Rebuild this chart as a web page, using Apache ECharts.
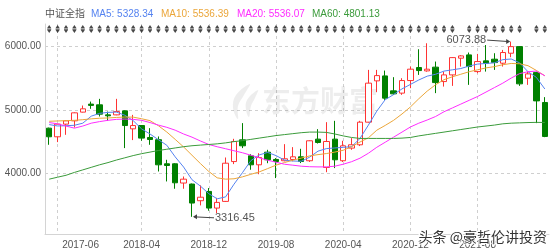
<!DOCTYPE html>
<html><head><meta charset="utf-8">
<script src="https://cdn.jsdelivr.net/npm/echarts@6/dist/echarts.min.js"></script>
<style>html,body{margin:0;padding:0;background:#fff}#c{width:554px;height:251px}</style>
</head><body><div id="c"></div>
<script>
const indexName = '中证全指';
const months = ['2017-05','2017-06','2017-07','2017-08','2017-09','2017-10','2017-11','2017-12',
'2018-01','2018-02','2018-03','2018-04','2018-05','2018-06','2018-07','2018-08','2018-09','2018-10','2018-11','2018-12',
'2019-01','2019-02','2019-03','2019-04','2019-05','2019-06','2019-07','2019-08','2019-09','2019-10','2019-11','2019-12',
'2020-01','2020-02','2020-03','2020-04','2020-05','2020-06','2020-07','2020-08','2020-09','2020-10','2020-11','2020-12',
'2021-01','2021-02','2021-03','2021-04','2021-05','2021-06','2021-07','2021-08','2021-09','2021-10','2021-11','2021-12',
'2022-01','2022-02','2022-03','2022-04'];
// [open, close, low, high]
const ohlc = [
[4712,4576,4450,4720],[4576,4775,4492,4780],[4775,4827,4607,4838],[4827,4953,4722,4960],
[4964,5016,4958,5068],[5090,5070,5016,5130],[5079,4932,4895,5173],[4921,4906,4827,4973],
[4921,4973,4915,5173],[4984,4753,4398,4990],[4701,4753,4524,4921],[4753,4555,4513,4760],
[4565,4533,4450,4712],[4530,4135,4030,4581],[4151,4124,3873,4214],[4151,3852,3758,4160],
[3848,3909,3758,3951],[3832,3533,3316.45,3840],[3570,3625,3496,3811],[3716,3454,3412,3769],
[3454,3543,3376,3615],[3559,4160,3550,4250],[4186,4502,4146,4544],[4528,4434,4398,4791],
[4277,4135,4057,4303],[4135,4250,3987,4318],[4334,4214,4160,4371],[4219,4187,3926,4240],
[4199,4230,4190,4460],[4219,4261,4190,4413],[4261,4187,4162,4387],[4199,4513,4180,4520],
[4539,4486,4470,4696],[4093,4502,4019,4806],[4539,4214,4083,4827],[4199,4434,4180,4513],
[4398,4450,4371,4555],[4450,4806,4430,4827],[4806,5420,4800,5629],[5456,5539,5278,5629],
[5534,5184,5157,5618],[5299,5252,5236,5514],[5263,5461,5236,5498],[5461,5640,5341,5681],
[5666,5618,5550,5954],[5613,5640,5600,6048],[5672,5429,5263,5760],[5445,5550,5366,5602],
[5550,5822,5377,5830],[5813,5849,5681,5860],[5865,5681,5393,5902],[5602,5760,5577,5880],
[5771,5734,5602,6020],[5797,5744,5629,5891],[5734,5902,5681,5943],[5891,5995,5828,6073.88],
[5995,5409,5377,6000],[5498,5566,5393,5602],[5586,5141,4791,5600],[5116,4581,4570,5200]];
const ma5 = [4768,4746,4750,4757,4790,4900,4945,4960,4965,4915,4830,4700,4620,4530,4443,4260,4100,3900,3800,3680,
3600,3630,3830,4010,4200,4290,4330,4280,4210,4195,4190,4255,4350,4390,4400,4410,4420,4550,4760,4980,
5160,5240,5330,5400,5470,5530,5560,5610,5630,5650,5690,5720,5730,5740,5790,5800,5740,5600,5510,5328.34];
const ma10 = [4820,4825,4830,4835,4845,4858,4868,4872,4880,4887,4885,4860,4830,4750,4651,4535,4416,4285,4155,4030,
3930,3909,3915,3945,3985,4023,4075,4129,4170,4207,4240,4275,4295,4312,4335,4364,4420,4494,4560,4680,
4755,4835,4935,5045,5175,5295,5395,5475,5520,5560,5600,5630,5660,5680,5710,5730,5725,5695,5620,5536.39];
const ma20 = [4800,4780,4745,4712,4745,4790,4815,4835,4850,4855,4850,4835,4800,4760,4725,4680,4620,4570,4510,4455,
4419,4388,4356,4325,4286,4246,4207,4176,4144,4129,4113,4105,4102,4102,4113,4144,4184,4239,4317,4411,
4490,4570,4650,4730,4790,4840,4895,4970,5030,5090,5150,5210,5280,5350,5420,5500,5570,5600,5610,5536.07];
const ma60 = [3909,3940,3970,4015,4055,4095,4135,4170,4210,4245,4280,4310,4335,4360,4380,4400,4420,4435,4445,4455,
4465,4480,4500,4515,4535,4555,4575,4595,4610,4625,4640,4650,4650,4645,4620,4590,4565,4550,4550,4550,
4550,4550,4555,4565,4590,4610,4630,4650,4670,4690,4710,4730,4745,4760,4780,4790,4795,4800,4803,4801.13];
const eventFlags = [1,1,1,1,1,1,1,1,1,1,1,1,1,1,1,1,1,1,1,1,1,1,1,1,1,1,1,1,1,1,
1,1,1,1,1,1,1,1,1,1,1,1,1,1,1,1,1,1,1,0,1,1,1,1,1,1,1,0,1,1];
const xTickLabels = ['2017-06','2018-04','2018-12','2019-08','2020-04','2020-12','2021-08'];
const yTickValues = [4000, 5000, 6000];

const C = {up:'#ff3333', down:'#008000', ma5:'#5583f0', ma10:'#eba63a', ma20:'#ff2cff', ma60:'#3b9b3b'};
const FONT = 'Arial, "Liberation Sans", "Noto Sans CJK SC", sans-serif';
const chart = echarts.init(document.getElementById('c'), null, {renderer:'canvas'});
const labelSet = new Set(xTickLabels);
const showIdx = (i) => labelSet.has(months[i]);

function maLine(name, data, color){
  return {name, type:'line', data, symbol:'none', smooth:false, silent:true,
    lineStyle:{width:1, color}, itemStyle:{color}, z:3};
}
const markerPath = 'path://M2,0 L4,3 L0,3 Z M0,3.4 L4,3.4 L4,4.6 L0,4.6 Z M0,5 L4,5 L2,8 Z';

chart.setOption({
  animation:false,
  textStyle:{fontFamily:FONT},
  grid:{left:45, right:5, top:24, bottom:17},
  xAxis:{type:'category', data:months, boundaryGap:true,
    axisLine:{lineStyle:{color:'#d4d4d4'}},
    axisTick:{show:false, interval:showIdx, alignWithLabel:true},
    axisLabel:{interval:showIdx, color:'#555', fontSize:10, margin:6, fontFamily:FONT,
      formatter:(v)=> v===xTickLabels[0] ? '{f|'+v+'}' : v,
      rich:{f:{padding:[0,0,0,46], fontSize:10, color:'#555', fontFamily:FONT}}},
    splitLine:{show:true, interval:showIdx, alignWithLabel:true, lineStyle:{color:'#cfcfcf', type:[3,3], width:1}}},
  yAxis:[{type:'value', min:3046, max:6351,
    axisLine:{show:true, lineStyle:{color:'#d4d4d4'}},
    axisTick:{show:false, customValues:yTickValues},
    axisLabel:{customValues:yTickValues, formatter:(v)=>v.toFixed(2), color:'#555', fontSize:10, margin:4, fontFamily:FONT},
    splitLine:{show:true, lineStyle:{color:'#cfcfcf', type:[3,3], width:1}}},
    {type:'value', min:0, max:1, show:false}],
  series:[
    {type:'candlestick', data:ohlc, barWidth:6, silent:true, z:2,
      itemStyle:{color:'#ffffff', color0:C.down, borderColor:C.up, borderColor0:C.down, borderWidth:1}},
    maLine('MA5', ma5, C.ma5), maLine('MA10', ma10, C.ma10), maLine('MA20', ma20, C.ma20), maLine('MA60', ma60, C.ma60),
    {type:'scatter', yAxisIndex:1, silent:true, data:eventFlags.map(f=>f?0.976:'-'),
      symbol:markerPath, symbolSize:[4,8], itemStyle:{color:'#1a1a1a'}, z:4}
  ]
});

function fmt(v){return v.toFixed(2);}
const g = [];
const legendItems = [
  {t:indexName, c:'#555', x:45},
  {t:'MA5: '+fmt(ma5[ma5.length-1]), c:C.ma5, x:91},
  {t:'MA10: '+fmt(ma10[ma10.length-1]), c:C.ma10, x:161},
  {t:'MA20: '+fmt(ma20[ma20.length-1]), c:C.ma20, x:237},
  {t:'MA60: '+fmt(ma60[ma60.length-1]), c:C.ma60, x:312}];
legendItems.forEach(it=>g.push({type:'text', x:it.x, y:14, silent:true,
  style:{text:it.t, fill:it.c, font:'10px '+FONT, textVerticalAlign:'middle'}}));
g.push({type:'polygon', silent:true, z:0,
  shape:{points:[[250,84],[236,95],[233,108],[238,119],[238,106],[244,95]], smooth:0.4},
  style:{fill:'rgba(0,0,0,0.07)'}});
g.push({type:'polygon', silent:true, z:0,
  shape:{points:[[258,90],[247,100],[246,110],[249,117],[251,106],[255,98]], smooth:0.4},
  style:{fill:'rgba(0,0,0,0.07)'}});
g.push({type:'text', x:262, y:101, silent:true, z:0,
  style:{text:'东方财富', fill:'rgba(0,0,0,0.07)', font:'bold 29px "Noto Sans CJK SC", sans-serif', textVerticalAlign:'middle'}});
let hi=0, lo=0;
ohlc.forEach((d,i)=>{ if(d[3]>ohlc[hi][3]) hi=i; if(d[2]<ohlc[lo][2]) lo=i; });
const hp = chart.convertToPixel({xAxisIndex:0, yAxisIndex:0}, [hi, ohlc[hi][3]]);
const lp = chart.convertToPixel({xAxisIndex:0, yAxisIndex:0}, [lo, ohlc[lo][2]]);
const arrowCol = '#444';
g.push({type:'line', silent:true, shape:{x1:hp[0]-24, y1:hp[1]-1.5, x2:hp[0]-2, y2:hp[1]}, style:{stroke:arrowCol, lineWidth:1}});
g.push({type:'polygon', silent:true, shape:{points:[[hp[0]-1,hp[1]],[hp[0]-5,hp[1]-2.5],[hp[0]-5,hp[1]+2.5]]}, style:{fill:arrowCol}});
g.push({type:'text', silent:true, x:hp[0]-25, y:hp[1]-2, style:{text:fmt(ohlc[hi][3]), fill:'#555', font:'11px '+FONT, textAlign:'right', textVerticalAlign:'middle'}});
g.push({type:'line', silent:true, shape:{x1:lp[0]+2, y1:lp[1], x2:lp[0]+22, y2:lp[1]+1}, style:{stroke:arrowCol, lineWidth:1}});
g.push({type:'polygon', silent:true, shape:{points:[[lp[0]+1,lp[1]],[lp[0]+5,lp[1]-2.5],[lp[0]+5,lp[1]+2.5]]}, style:{fill:arrowCol}});
g.push({type:'text', silent:true, x:lp[0]+23, y:lp[1]+1, style:{text:fmt(ohlc[lo][2]), fill:'#555', font:'11px '+FONT, textVerticalAlign:'middle'}});
g.push({type:'text', silent:true, x:547, y:237, z:100,
  style:{text:'头条 @豪哲伦讲投资', fill:'#333', stroke:'#fff', lineWidth:2, font:'14px "Noto Sans CJK SC", sans-serif', textAlign:'right', textVerticalAlign:'middle'}});
chart.setOption({graphic:g});
</script></body></html>
